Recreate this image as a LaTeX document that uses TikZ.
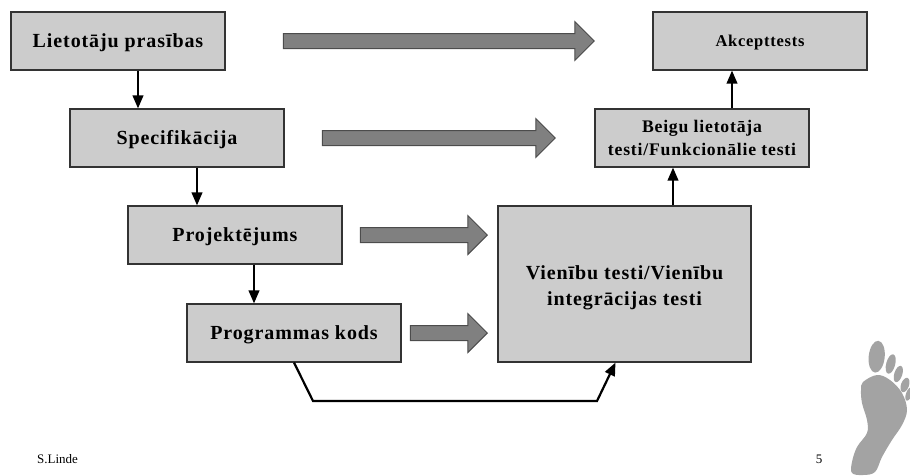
\documentclass[tikz,border=0pt]{standalone}
\usepackage{fontspec}
\setmainfont{Liberation Serif}
\usetikzlibrary{arrows.meta,shapes.arrows}
\definecolor{boxfill}{HTML}{CCCCCC}
\definecolor{blockfill}{HTML}{808080}
\definecolor{footgrey}{HTML}{A3A3A3}
\tikzset{
  stage/.style={draw=black!80,line width=1.1pt,fill=boxfill,minimum width=#1,align=center,inner sep=0pt,
    font=\fontsize{20pt}{23.5pt}\selectfont\bfseries\addfontfeature{LetterSpace=4.5}},
  drop/.style={execute at begin node={\rule{0pt}{#1}}},
  flow/.style={line width=2.2pt,-{Triangle[length=13pt,width=10.5pt]}},
  bigarrow/.style={single arrow,draw=black!70,line width=1pt,fill=blockfill,minimum width=38pt,
    single arrow head extend=12pt,single arrow tip angle=90,inner sep=0pt,text height=14pt,text depth=0pt,
    minimum height=#1,anchor=east},
  note/.style={font=\fontsize{13pt}{15pt}\selectfont,inner sep=0pt},
}
\begin{document}
\begin{tikzpicture}[x=1pt,y=-1pt]
\useasboundingbox (0,0) rectangle (910,475);
\node[stage=214pt,minimum height=58pt,drop=18pt] (lp) at (118,41) {Lietotāju prasības};
\node[stage=214pt,minimum height=58pt,drop=18pt] (sp) at (177,138) {Specifikācija};
\node[stage=214pt,minimum height=58pt,drop=18pt] (pr) at (235,235) {Projektējums};
\node[stage=214pt,minimum height=58pt,drop=18pt] (pk) at (294,333) {Programmas kods};
\node[stage=214pt,minimum height=58pt,drop=14pt,font=\fontsize{16.5pt}{20pt}\selectfont\bfseries\addfontfeature{LetterSpace=4.5}] (ak) at (760,41) {Akcepttests};
\node[stage=214pt,minimum height=58pt,font=\fontsize{17.7pt}{23pt}\selectfont\bfseries\addfontfeature{LetterSpace=4.5}] (bl) at (702,138) {Beigu lietotāja\\testi/Funkcionālie testi};
\node[stage=253pt,minimum height=156pt,
  label={[align=center,inner sep=0pt,yshift=-4pt,font=\fontsize{20pt}{25.5pt}\selectfont\bfseries\addfontfeature{LetterSpace=4.5}]center:{Vienību testi/Vienību\\integrācijas testi}}] (vt) at (624.5,284) {};
\draw[flow] ([xshift=20pt]lp.south) -- ([xshift=-39pt]sp.north);
\draw[flow] ([xshift=20pt]sp.south) -- ([xshift=-38pt]pr.north);
\draw[flow] ([xshift=19pt]pr.south) -- ([xshift=-40pt]pk.north);
\draw[flow] ([xshift=48.5pt]vt.north) -- ([xshift=-29pt]bl.south);
\draw[flow] ([xshift=30pt]bl.north) -- ([xshift=-28pt]ak.south);
\coordinate (c1) at (313,401);
\coordinate (c2) at (597,401);
\draw[flow,line join=miter] (pk.south) -- (c1) -- (c2) -- ([xshift=-9pt]vt.south);
\node[bigarrow=311pt] (a1) at (595,41) {};
\node[bigarrow=233pt] (a2) at (556,138) {};
\node[bigarrow=127pt] (a3) at (488,235) {};
\node[bigarrow=77pt] (a4) at (488,333) {};
\node[note,anchor=west] (sl) at (37,459) {S.Linde};
\node[note] (pg) at (819,459) {5};
\fill[footgrey,rotate around={-6:(876.7,356.7)}] (876.7,356.7) ellipse [x radius=8,y radius=16];
\fill[footgrey,rotate around={-15:(890.7,364)}] (890.7,364) ellipse [x radius=4.5,y radius=10];
\fill[footgrey,rotate around={-18:(898.3,374)}] (898.3,374) ellipse [x radius=4,y radius=8.5];
\fill[footgrey,rotate around={-20:(905,385)}] (905,385) ellipse [x radius=4,y radius=7.5];
\fill[footgrey,rotate around={-20:(909,394)}] (909,394) ellipse [x radius=3,y radius=7];
\fill[footgrey] plot[smooth cycle,tension=0.6] coordinates {
 (863,382) (877,375) (890,380) (902,393) (907,410) (902,425) (892,440)
 (882,457) (875,472) (863,475) (852,473) (852,462) (857,447) (867,433) (867,420) (862,403) (861,390)};
\end{tikzpicture}
\end{document}
